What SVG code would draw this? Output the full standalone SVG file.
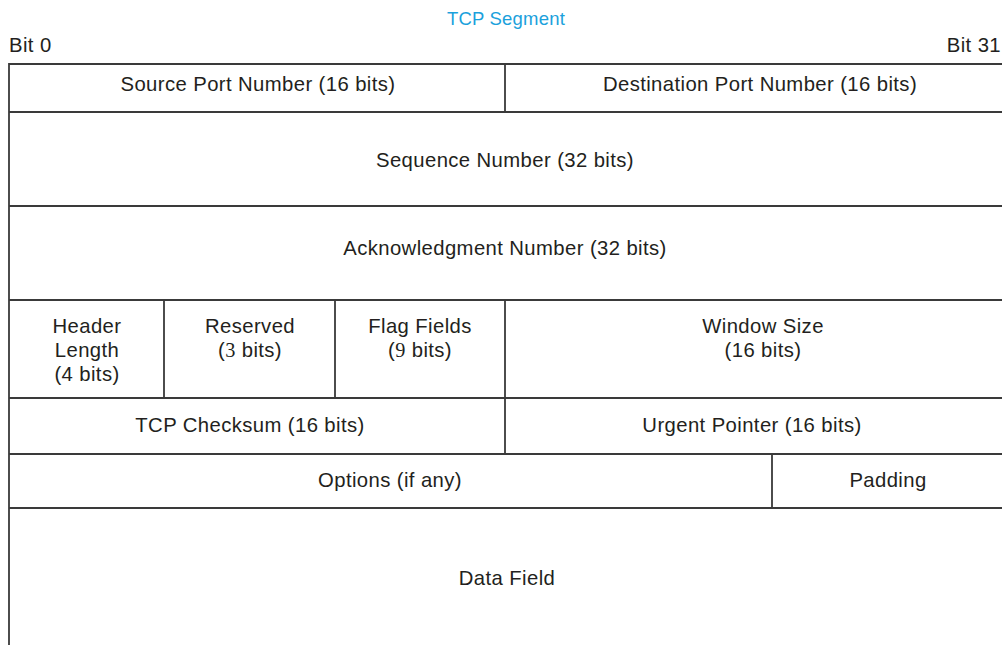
<svg xmlns="http://www.w3.org/2000/svg" width="1002" height="645" viewBox="0 0 1002 645">
<style>
.t{font-family:"Liberation Sans",Arial,sans-serif;font-size:20.3px;letter-spacing:0.4px;fill:#231f20;text-anchor:middle}
.s{font-family:"Liberation Serif","Times New Roman",serif}
.ln{stroke:#3a3a3a;stroke-width:1.8;fill:none}
</style>
<rect width="1002" height="645" fill="#fff"/>
<text x="506" y="25" class="t" style="fill:#1ba1dc;font-size:18.5px;letter-spacing:0.2px">TCP Segment</text>
<text x="9" y="52" class="t" style="text-anchor:start">Bit 0</text>
<text x="1001" y="52" class="t" style="text-anchor:end">Bit 31</text>
<g id="connectors">
<path class="ln" d="M9,645 V64 H1002 M9,112 H1002 M9,206 H1002 M9,300 H1002 M9,398 H1002 M9,454 H1002 M9,508 H1002"/>
<path class="ln" d="M505,64 V112 M164,300 V398 M335,300 V398 M505,300 V454 M772,454 V508"/>
</g>
<g id="src"><text x="258" y="91" class="t">Source Port Number (16 bits)</text></g>
<g id="dst"><text x="760" y="91" class="t">Destination Port Number (16 bits)</text></g>
<g id="seq"><text x="505" y="167" class="t">Sequence Number (32 bits)</text></g>
<g id="ack"><text x="505" y="255" class="t">Acknowledgment Number (32 bits)</text></g>
<g id="hlen"><text x="87" y="333" class="t">Header</text><text x="87" y="357" class="t">Length</text><text x="87" y="381" class="t">(4 bits)</text></g>
<g id="res"><text x="250" y="333" class="t">Reserved</text><text x="250" y="357" class="t">(<tspan class="s">3</tspan> bits)</text></g>
<g id="flags"><text x="420" y="333" class="t">Flag Fields</text><text x="420" y="357" class="t">(<tspan class="s">9</tspan> bits)</text></g>
<g id="win"><text x="763" y="333" class="t">Window Size</text><text x="763" y="357" class="t">(16 bits)</text></g>
<g id="cks"><text x="250" y="432" class="t">TCP Checksum (16 bits)</text></g>
<g id="urg"><text x="752" y="432" class="t">Urgent Pointer (16 bits)</text></g>
<g id="opt"><text x="390" y="487" class="t">Options (if any)</text></g>
<g id="pad"><text x="888" y="487" class="t">Padding</text></g>
<g id="data"><text x="507" y="585" class="t">Data Field</text></g>
</svg>
